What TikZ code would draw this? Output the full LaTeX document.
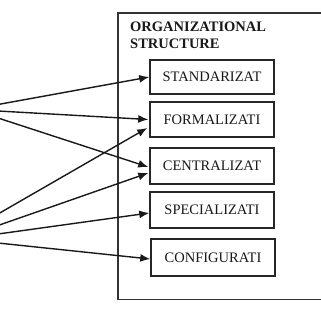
\documentclass[tikz,border=0pt]{standalone}
\usepackage{fontspec}
\setmainfont{Liberation Serif}
\usetikzlibrary{arrows.meta}
\begin{document}
\begin{tikzpicture}[x=1pt,y=-1pt,
  dim/.style={draw=black!85,line width=1.5pt,minimum width=124pt,inner sep=0pt,font=\fontsize{14.5}{16}\selectfont,text=black!90},
  arr/.style={line width=1.4pt,draw=black!90,-{Latex[length=10pt,width=8pt]}}]
\fill[white] (0,0) rectangle (320,320);
\useasboundingbox (0,0) rectangle (320,320);
\draw[line width=1.5pt,draw=black!80] (330,13) -- (118,13) -- (118,299.5) -- (330,299.5);
\node[anchor=north west,align=left,inner sep=0pt,font=\fontsize{14.5}{17}\selectfont\bfseries,text=black!90] (title) at (130,22) {ORGANIZATIONAL\\STRUCTURE};
\node[dim,minimum height=34pt] (std) at (212,77) {STANDARIZAT};
\node[dim,minimum height=35pt] (form) at (212,119.5) {FORMALIZATI};
\node[dim,minimum height=36pt] (cent) at (212,166) {CENTRALIZAT};
\node[dim,minimum height=36pt] (spec) at (212,210) {SPECIALIZATI};
\node[dim,minimum height=37pt] (conf) at (213,257.5) {CONFIGURATI};
\coordinate (s1) at (-2,104.5);
\coordinate (s2) at (-2,111);
\coordinate (s3) at (-2,118);
\coordinate (s4) at (-2,214);
\coordinate (s5) at (-2,225.5);
\coordinate (s6) at (-2,234);
\coordinate (s7) at (-2,243);
\draw[arr] (s1) -- (std.west);
\draw[arr] (s2) -- ([xshift=-1pt]form.west);
\draw[arr] (s3) -- ([xshift=-1pt,yshift=-1pt]cent.west);
\draw[arr] (s4) -- ([xshift=-2pt,yshift=-8.5pt]form.west);
\draw[arr] (s5) -- ([xshift=-1pt,yshift=-7pt]cent.west);
\draw[arr] (s6) -- ([yshift=-3pt]spec.west);
\draw[arr] (s7) -- ([yshift=-1.5pt]conf.west);
\end{tikzpicture}
\end{document}
